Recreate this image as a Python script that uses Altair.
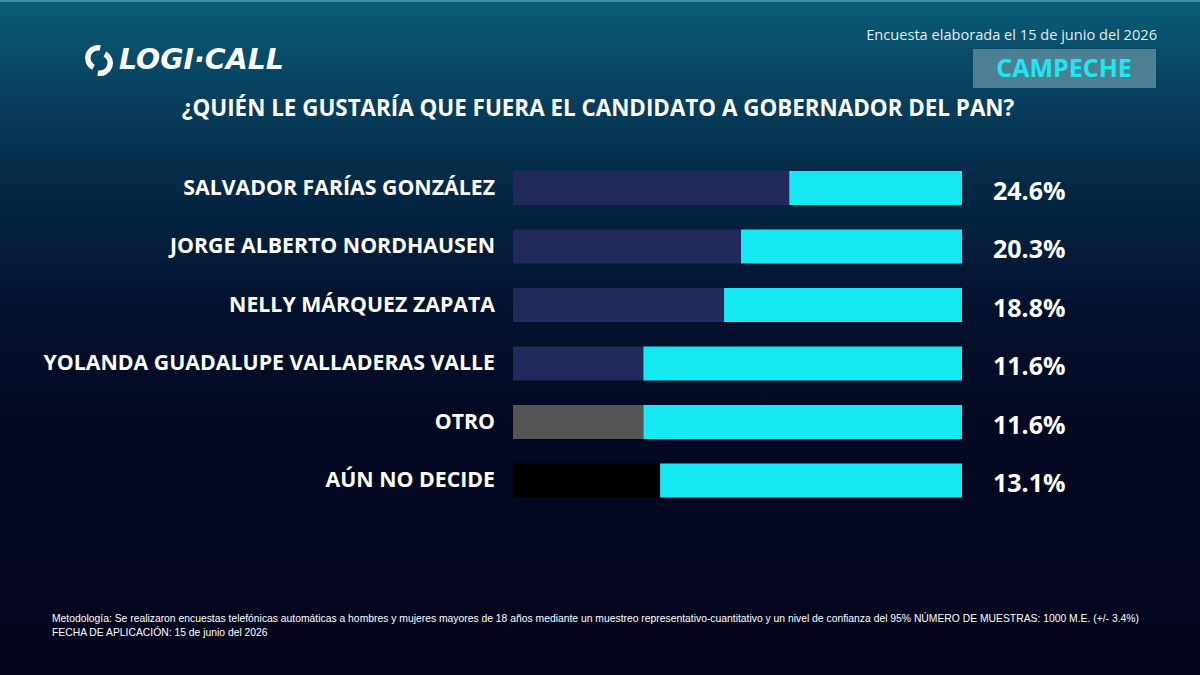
import altair as alt
import pandas as pd

# ---- data ----
candidates = [
    "SALVADOR FARÍAS GONZÁLEZ",
    "JORGE ALBERTO NORDHAUSEN",
    "NELLY MÁRQUEZ ZAPATA",
    "YOLANDA GUADALUPE VALLADERAS VALLE",
    "OTRO",
    "AÚN NO DECIDE",
]
values = [24.6, 20.3, 18.8, 11.6, 11.6, 13.1]
value_labels = ["24.6%", "20.3%", "18.8%", "11.6%", "11.6%", "13.1%"]
bar_colors = ["#222a5c", "#222a5c", "#222a5c", "#222a5c", "#555555", "#000000"]
axis_max = [40, 40, 40, 40, 40, 40]

title_text = "¿QUIÉN LE GUSTARÍA QUE FUERA EL CANDIDATO A GOBERNADOR DEL PAN?"
date_text = "Encuesta elaborada el 15 de junio del 2026"
state_text = "CAMPECHE"
brand_text = "LOGI·CALL"
footer_lines = [
    "Metodología: Se realizaron encuestas telefónicas automáticas a hombres y mujeres mayores de 18 años mediante un muestreo representativo-cuantitativo y un nivel de confianza del 95% NÚMERO DE MUESTRAS: 1000 M.E. (+/- 3.4%)",
    "FECHA DE APLICACIÓN: 15 de junio del 2026",
]

df = pd.DataFrame({
    "name": candidates,
    "value": values,
    "label": value_labels,
    "color": bar_colors,
    "maxv": axis_max,
})

W, H = 1200, 675
FONT = "Open Sans"

xscale = alt.Scale(domain=[0, 40], range=[513, 962])
yscale = alt.Scale(domain=candidates, range=[158.7, 509.7], paddingInner=0.42, paddingOuter=0.21)

one = pd.DataFrame({"k": [0]})

bg = alt.Chart(one).mark_rect(
    color=alt.LinearGradient(
        gradient="linear", x1=0, y1=0, x2=0, y2=1,
        stops=[
            alt.GradientStop(color="#0a5d78", offset=0.0),
            alt.GradientStop(color="#07405e", offset=0.14),
            alt.GradientStop(color="#052845", offset=0.28),
            alt.GradientStop(color="#04122e", offset=0.45),
            alt.GradientStop(color="#040822", offset=0.65),
            alt.GradientStop(color="#03051c", offset=1.0),
        ],
    )
).encode(x=alt.value(0), x2=alt.value(W), y=alt.value(0), y2=alt.value(H))

topline = alt.Chart(one).mark_rect(color="#3d8aa3").encode(
    x=alt.value(0), x2=alt.value(W), y=alt.value(0), y2=alt.value(2)
)

cyan = alt.Chart(df).mark_bar(color="#16e8f4").encode(
    x=alt.X("value:Q", scale=xscale, axis=None),
    x2="maxv:Q",
    y=alt.Y("name:N", scale=yscale, axis=None, sort=candidates),
)

dark = alt.Chart(df).mark_bar().encode(
    x=alt.X("value:Q", scale=xscale, axis=None),
    x2=alt.datum(0),
    y=alt.Y("name:N", scale=yscale, axis=None, sort=candidates),
    color=alt.Color("color:N", scale=None, legend=None),
)

names_txt = alt.Chart(df).mark_text(
    align="right", baseline="middle", font=FONT, fontWeight="bold", fontSize=21.3, color="white", dy=1
).encode(
    x=alt.value(495),
    y=alt.Y("name:N", scale=yscale, axis=None, sort=candidates),
    text="name:N",
)

vals_txt = alt.Chart(df).mark_text(
    align="left", baseline="middle", font=FONT, fontWeight="bold", fontSize=25, color="white", dy=4
).encode(
    x=alt.value(993),
    y=alt.Y("name:N", scale=yscale, axis=None, sort=candidates),
    text="label:N",
)

title = alt.Chart(one).mark_text(
    align="center", baseline="middle", font=FONT, fontWeight="bold", fontSize=22.4, color="white"
).encode(x=alt.value(598), y=alt.value(109), text=alt.datum(title_text))

date = alt.Chart(one).mark_text(
    align="right", baseline="middle", font=FONT, fontSize=14.6, color="#e3ebef"
).encode(x=alt.value(1157), y=alt.value(36), text=alt.datum(date_text))

box = alt.Chart(one).mark_rect(color="#5b8a9b", opacity=0.85).encode(
    x=alt.value(973), x2=alt.value(1156), y=alt.value(49), y2=alt.value(88)
)

state = alt.Chart(one).mark_text(
    align="center", baseline="middle", font=FONT, fontWeight="bold", fontSize=25, color="#1fe6f2"
).encode(x=alt.value(1064), y=alt.value(69), text=alt.datum(state_text))

brand = alt.Chart(one).mark_text(
    align="left", baseline="middle", font="DejaVu Sans", fontWeight="bold", fontStyle="italic",
    fontSize=28.4, color="white"
).encode(x=alt.value(119), y=alt.value(60), text=alt.datum(brand_text))

arc1 = alt.Chart(one).mark_arc(
    color="white", radius=13, radius2=7.5, theta=3.6, theta2=6.5
).encode(x=alt.value(98), y=alt.value(58))
arc2 = alt.Chart(one).mark_arc(
    color="white", radius=13, radius2=7.5, theta=0.5, theta2=3.35
).encode(x=alt.value(100), y=alt.value(63))

FOOT_FONT = "Liberation Sans"
foot1 = alt.Chart(one).mark_text(
    align="left", baseline="middle", font=FOOT_FONT, fontSize=10.35, color="white"
).encode(x=alt.value(52), y=alt.value(619), text=alt.datum(footer_lines[0]))
foot2 = alt.Chart(one).mark_text(
    align="left", baseline="middle", font=FOOT_FONT, fontSize=10.35, color="white"
).encode(x=alt.value(52), y=alt.value(633), text=alt.datum(footer_lines[1]))

chart = alt.layer(
    bg, topline, cyan, dark, names_txt, vals_txt, title, date, box, state, brand, arc1, arc2, foot1, foot2
).properties(
    width=W, height=H, padding=0, autosize=alt.AutoSizeParams(type="none"),
    background="#03051c",
).configure_view(stroke=None)

chart.save("out.html", embed_options={"renderer": "svg", "actions": False})
